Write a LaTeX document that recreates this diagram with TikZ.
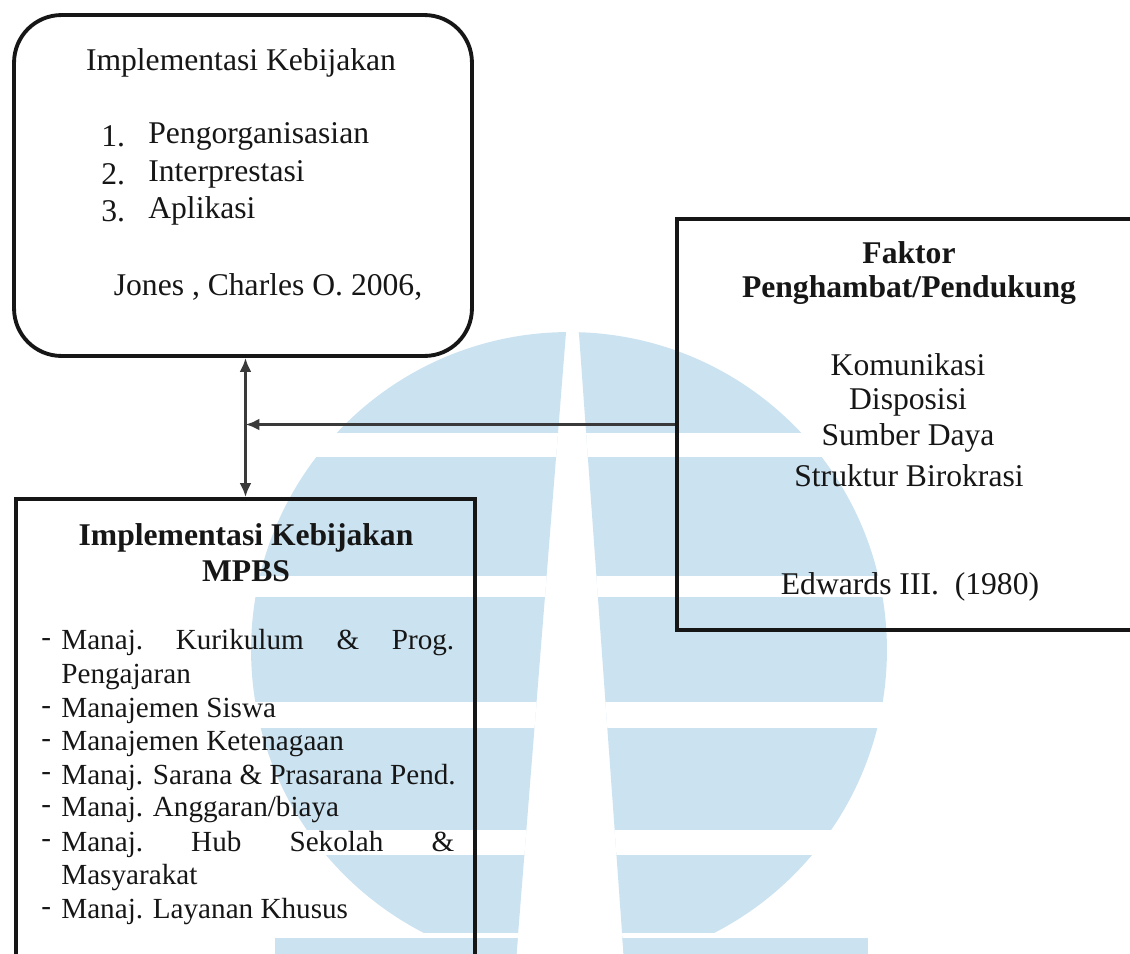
\documentclass[tikz,border=0pt]{standalone}
\usepackage{fontspec}
\setmainfont{Liberation Serif}
\usetikzlibrary{arrows.meta}

\definecolor{wmblue}{RGB}{203,226,240}
\definecolor{ink}{RGB}{22,22,22}
\definecolor{linkgray}{RGB}{58,58,58}

\tikzset{
    box/.style={draw=ink, line width=2.2pt, inner sep=0pt},
    link/.style={draw=linkgray, line width=1.6pt},
    tip/.style={-{Latex[length=0.28cm,width=0.24cm]}},
    tips/.style={{Latex[length=0.28cm,width=0.24cm]}-{Latex[length=0.28cm,width=0.24cm]}},
    txt/.style={inner sep=0pt, text=ink, font=\fontsize{18}{21}\selectfont},
    bold/.style={inner sep=0pt, text=ink, font=\fontsize{18}{21}\selectfont\bfseries},
    item/.style={inner sep=0pt, text=ink, anchor=west, font=\fontsize{16.6}{19}\selectfont}
}

\begin{document}
\begin{tikzpicture}[x=0.02cm, y=-0.02cm]
    \useasboundingbox (0,0) rectangle (1130,954);

    % watermark behind the diagram
    \begin{scope}
        \clip (0,320) -- (567,320) -- (516,960) -- (0,960) -- cycle
              (578,320) -- (1130,320) -- (1130,960) -- (624,960) -- cycle;
        \fill[wmblue] (569,650) circle (6.36cm);
        \fill[wmblue] (275,938) rectangle (868,960);
        \foreach \ya/\yb in {433/457, 576/597, 702/728, 830/855, 933/938}
            \fill[white] (0,\ya) rectangle (1130,\yb);
    \end{scope}

    % boxes
    \node[box, rounded corners=0.95cm, minimum width=9.16cm, minimum height=6.82cm] (kebijakan) at (243,185.5) {};
    \node[box, minimum width=9.24cm, minimum height=8.22cm] (faktor) at (908,424.5) {};
    \node[box, minimum width=9.18cm, minimum height=9.62cm] (mpbs) at (245.5,739.5) {};

    % top box
    \node[txt] (kebJudul) at (241,63) {Implementasi Kebijakan};
    \node[txt, anchor=west] (kebNo1) at (101,136) {1.};
    \node[txt, anchor=west] (kebNo2) at (101,174) {2.};
    \node[txt, anchor=west] (kebNo3) at (101,211) {3.};
    \node[txt, anchor=west] (kebIsi1) at (148,136) {Pengorganisasian};
    \node[txt, anchor=west] (kebIsi2) at (148,174) {Interprestasi};
    \node[txt, anchor=west] (kebIsi3) at (148,211) {Aplikasi};
    \node[txt] (kebSumber) at (268,287) {Jones , Charles O. 2006,};

    % right box
    \node[bold] (faktorJudul1) at (909,253) {Faktor};
    \node[bold] (faktorJudul2) at (909,290) {Penghambat/Pendukung};
    \node[txt] (faktor1) at (908,365) {Komunikasi};
    \node[txt] (faktor2) at (908,402) {Disposisi};
    \node[txt] (faktor3) at (908,438) {Sumber Daya};
    \node[txt] (faktor4) at (909,476) {Struktur Birokrasi};
    \node[txt] (faktorSumber) at (910,587) {Edwards III.\ \ (1980)};

    % bottom box
    \node[bold] (mpbsJudul1) at (246,538) {Implementasi Kebijakan};
    \node[bold] (mpbsJudul2) at (246,571) {MPBS};
    \node[item] (strip1) at (41,643) {-};
    \node[item] (mpbs1) at (61,643) {\makebox[7.86cm][s]{Manaj.\hfill Kurikulum\hfill \&\hfill Prog.}};
    \node[item] (mpbs1b) at (61,677) {Pengajaran};
    \node[item] (strip2) at (41,711) {-};
    \node[item] (mpbs2) at (61,711) {Manajemen Siswa};
    \node[item] (strip3) at (41,744) {-};
    \node[item] (mpbs3) at (61,744) {Manajemen Ketenagaan};
    \node[item] (strip4) at (41,777) {-};
    \node[item] (mpbs4) at (61,777) {Manaj. Sarana \& Prasarana Pend.};
    \node[item] (strip5) at (41,810) {-};
    \node[item] (mpbs5) at (61,810) {Manaj. Anggaran/biaya};
    \node[item] (strip6) at (41,844) {-};
    \node[item] (mpbs6) at (61,844) {\makebox[7.86cm][s]{Manaj.\hfill Hub\hfill Sekolah\hfill \&}};
    \node[item] (mpbs6b) at (61,878) {Masyarakat};
    \node[item] (strip7) at (41,912) {-};
    \node[item] (mpbs7) at (61,912) {Manaj. Layanan Khusus};

    % connectors
    \coordinate (simpul) at (faktor.west -| mpbs.north);
    \draw[link, tips] (kebijakan.south -| mpbs.north) -- (mpbs.north);
    \draw[link, tip] (faktor.west) -- (simpul);
\end{tikzpicture}
\end{document}
